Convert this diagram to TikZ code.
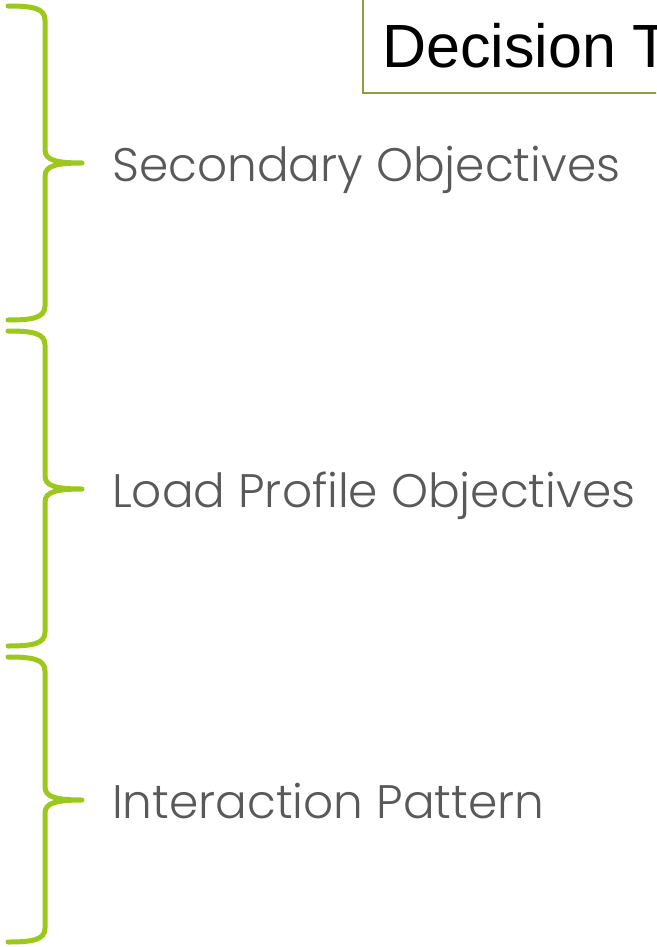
\documentclass[tikz,border=0pt]{standalone}
\usepackage{fontspec}
\newfontfamily\boxfont{Liberation Sans}
\newfontfamily\labfont{Poppins}[UprightFont=* Light]
\usepackage{xcolor}
\usepackage{tikz}
\definecolor{leaf}{HTML}{9CC81E}
\definecolor{olive}{HTML}{8A9E3A}
\definecolor{slate}{HTML}{595959}
\tikzset{
  brc/.style={draw=leaf, line width=5pt, line cap=round, line join=round},
  frame/.style={draw=olive, line width=1.6pt},
  lab/.style={text=slate, anchor=base west, inner sep=0pt,
    font=\labfont\fontsize{47}{56}\selectfont},
  ttl/.style={text=black, anchor=base west, inner sep=0pt,
    font=\boxfont\fontsize{61}{70}\selectfont},
}
\begin{document}
\begin{tikzpicture}[x=1pt,y=-1pt]
  \useasboundingbox (0,0) rectangle (656,947);
  \clip (0,0) rectangle (656,947);
  % title box, cut by the page edge
  \draw[frame] (363,-20) rectangle (720,93);
  \node[ttl] (title) at (382,68) {Decision T};
  % braces: top, tip, bottom
  \foreach \t/\m/\b in {6/163/320, 331/489/646, 657/800/942}{
    \draw[brc] (8,\t) .. controls (32,\t) and (45,\t+2) .. (45,\t+14)
      -- (45,\m-13) .. controls (45,\m-3) and (56,\m) .. (82,\m)
      .. controls (56,\m) and (45,\m+3) .. (45,\m+13)
      -- (45,\b-14) .. controls (45,\b-2) and (32,\b) .. (8,\b);
  }
  \node[lab] (sec) at (112,181) {Secondary Objectives};
  \node[lab] (load) at (112,507) {Load Profile Objectives};
  \node[lab] (inter) at (112,818) {Interaction Pattern};
\end{tikzpicture}
\end{document}
